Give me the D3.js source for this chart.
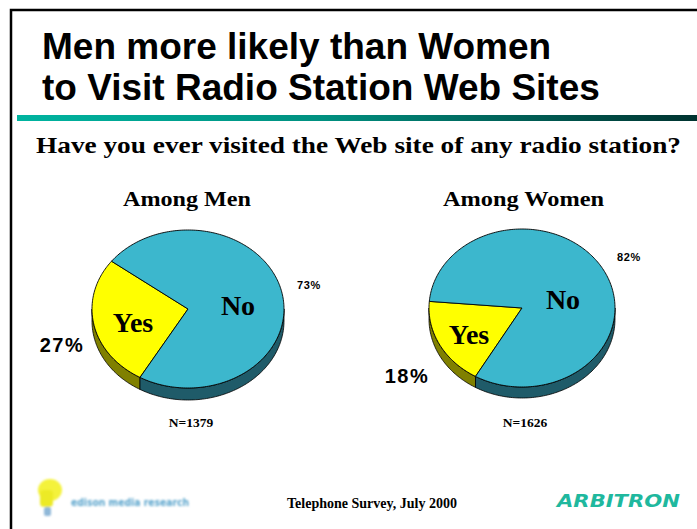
<!DOCTYPE html>
<html>
<head>
<meta charset="utf-8">
<script src="https://cdn.jsdelivr.net/npm/d3@7/dist/d3.min.js"></script>
<style>
  html, body { margin: 0; padding: 0; background: #fff; }
  svg { display: block; }
</style>
</head>
<body>
<svg id="chart" width="697" height="529"></svg>
<script>
// Survey answers, percent of respondents
const groups = ["Among Men", "Among Women"];
const answers = ["Yes", "No"];
const menValues = [27, 73];
const womenValues = [18, 82];
const sampleSizes = ["N=1379", "N=1626"];
const titleLines = ["Men more likely than Women", "to Visit Radio Station Web Sites"];
const question = "Have you ever visited the Web site of any radio station?";
const footnote = "Telephone Survey, July 2000";

const svg = d3.select("#chart");
const W = 697, H = 529;
const serif = "Liberation Serif, Times New Roman, serif";
const sans = "Liberation Sans, Arial, sans-serif";

// frame
svg.append("rect").attr("x", 0).attr("y", 0).attr("width", W).attr("height", H).attr("fill", "#fff");
svg.append("path")
  .attr("d", `M11,${H} L11,10 L${W},10`)
  .attr("fill", "none").attr("stroke", "#000").attr("stroke-width", 2.5);

// title
svg.append("g").selectAll("text").data(titleLines).join("text")
  .attr("x", 42).attr("y", (d, i) => 59 + i * 41)
  .attr("font-family", sans)
  .attr("font-weight", "bold").attr("font-size", 37)
  .attr("fill", "#000").text(d => d);

// gradient rule under the title
const defs = svg.append("defs");
const grad = defs.append("linearGradient").attr("id", "rule").attr("x1", "0%").attr("x2", "100%");
grad.append("stop").attr("offset", "0%").attr("stop-color", "#00b4a0");
grad.append("stop").attr("offset", "45%").attr("stop-color", "#009080");
grad.append("stop").attr("offset", "100%").attr("stop-color", "#003330");
svg.append("rect").attr("x", 17).attr("y", 115).attr("width", W - 17).attr("height", 6).attr("fill", "url(#rule)");

// question
svg.append("text").attr("x", 36).attr("y", 153)
  .attr("font-family", serif)
  .attr("font-weight", "bold").attr("font-size", 23.5)
  .attr("textLength", 645).attr("lengthAdjust", "spacingAndGlyphs")
  .text(question);

const blur = defs.append("filter").attr("id", "soft").attr("x", "-20%").attr("y", "-50%").attr("width", "140%").attr("height", "200%");
blur.append("feGaussianBlur").attr("stdDeviation", 1.1);

const topColors = d3.scaleOrdinal().domain(answers).range(["#ffff00", "#3cb7cd"]);
const sideColors = d3.scaleOrdinal().domain(answers).range(["#808000", "#1f5b69"]);

const pies = [
  { group: groups[0], values: menValues, n: sampleSizes[0], cx: 188, cy: 309, rx: 96, ry: 79, depth: 12,
    headX: 123, headW: 128,
    labels: { Yes: [133, 322], No: [238, 305] },
    pct: { Yes: [62, 345, 20], No: [309, 285, 11] } },
  { group: groups[1], values: womenValues, n: sampleSizes[1], cx: 522, cy: 308, rx: 93, ry: 79, depth: 11,
    headX: 443, headW: 161,
    labels: { Yes: [469, 334], No: [563, 299] },
    pct: { Yes: [407, 376, 20], No: [629, 257, 11] } }
];

const pieLayout = d3.pie().sort(null).value(d => d.value)
  .startAngle(210 * Math.PI / 180).endAngle(570 * Math.PI / 180);

function pt(p, a, dy) {
  return [p.cx + p.rx * Math.sin(a), p.cy - p.ry * Math.cos(a) + (dy || 0)];
}
function arcPoints(p, a0, a1, dy) {
  const n = Math.max(2, Math.ceil(Math.abs(a1 - a0) / 0.02));
  return d3.range(n + 1).map(i => pt(p, a0 + (a1 - a0) * i / n, dy));
}

pies.forEach(p => {
  const g = svg.append("g");
  const data = answers.map((k, i) => ({ key: k, value: p.values[i] }));
  const slices = pieLayout(data);

  // visible side wall: the front half of the ellipse, angles 90°..270° (mod 360)
  slices.forEach(s => {
    [0, 2 * Math.PI].forEach(off => {
      const lo = Math.max(s.startAngle, Math.PI / 2 + off);
      const hi = Math.min(s.endAngle, 3 * Math.PI / 2 + off);
      if (hi <= lo) return;
      const top = arcPoints(p, lo, hi, 0);
      const bottom = arcPoints(p, hi, lo, p.depth);
      g.append("path")
        .attr("d", d3.line()(top.concat(bottom)) + "Z")
        .attr("fill", sideColors(s.data.key))
        .attr("stroke", "#000").attr("stroke-width", 0.8).attr("stroke-linejoin", "round");
    });
  });

  // top face
  slices.forEach(s => {
    const pts = [[p.cx, p.cy]].concat(arcPoints(p, s.startAngle, s.endAngle, 0));
    g.append("path")
      .attr("d", d3.line()(pts) + "Z")
      .attr("fill", topColors(s.data.key))
      .attr("stroke", "#000").attr("stroke-width", 0.9).attr("stroke-linejoin", "round");
  });

  // slice names
  slices.forEach(s => {
    const [x, y] = p.labels[s.data.key];
    g.append("text").attr("x", x).attr("y", y).attr("dy", "0.35em").attr("text-anchor", "middle")
      .attr("font-family", serif)
      .attr("font-weight", "bold").attr("font-size", 28).text(s.data.key);
  });

  // percentages
  slices.forEach(s => {
    const [x, y, fs] = p.pct[s.data.key];
    g.append("text").attr("x", x).attr("y", y).attr("dy", "0.35em").attr("text-anchor", "middle")
      .attr("font-family", sans)
      .attr("font-weight", "bold").attr("font-size", fs)
      .attr("letter-spacing", fs > 12 ? 1.5 : 0.6)
      .text(s.data.value + "%");
  });

  // group heading and sample size
  g.append("text").attr("x", p.headX).attr("y", 206)
    .attr("font-family", serif)
    .attr("font-weight", "bold").attr("font-size", 22)
    .attr("textLength", p.headW).attr("lengthAdjust", "spacingAndGlyphs")
    .text(p.group);
  g.append("text").attr("x", p.cx + 3).attr("y", 427).attr("text-anchor", "middle")
    .attr("font-family", serif)
    .attr("font-weight", "bold").attr("font-size", 13.5).text(p.n);
});

// footer
svg.append("text").attr("x", 287).attr("y", 508)
  .attr("font-family", serif)
  .attr("font-weight", "bold").attr("font-size", 14)
  .attr("textLength", 170).attr("lengthAdjust", "spacingAndGlyphs")
  .text(footnote);

// edison media research mark (soft)
const logo = svg.append("g").attr("filter", "url(#soft)");
logo.append("ellipse").attr("cx", 50).attr("cy", 490).attr("rx", 12).attr("ry", 11).attr("fill", "#f4f23a");
logo.append("rect").attr("x", 40).attr("y", 490).attr("width", 13).attr("height", 17).attr("rx", 4).attr("fill", "#ecea28");
logo.append("rect").attr("x", 44).attr("y", 507).attr("width", 7).attr("height", 9).attr("rx", 2).attr("fill", "#8fb8d8");
logo.append("text").attr("x", 71).attr("y", 506)
  .attr("font-family", "DejaVu Sans, sans-serif").attr("font-size", 10).attr("font-weight", "bold")
  .attr("textLength", 118).attr("lengthAdjust", "spacingAndGlyphs")
  .attr("fill", "#5aa4cc").text("edison media research");

// ARBITRON wordmark
svg.append("text").attr("x", 557).attr("y", 507)
  .attr("font-family", "DejaVu Sans, Verdana, sans-serif")
  .attr("font-weight", "bold").attr("font-style", "italic").attr("font-size", 18)
  .attr("textLength", 123).attr("lengthAdjust", "spacingAndGlyphs")
  .attr("fill", "#1fb89e").text("ARBITRON");
</script>
</body>
</html>
